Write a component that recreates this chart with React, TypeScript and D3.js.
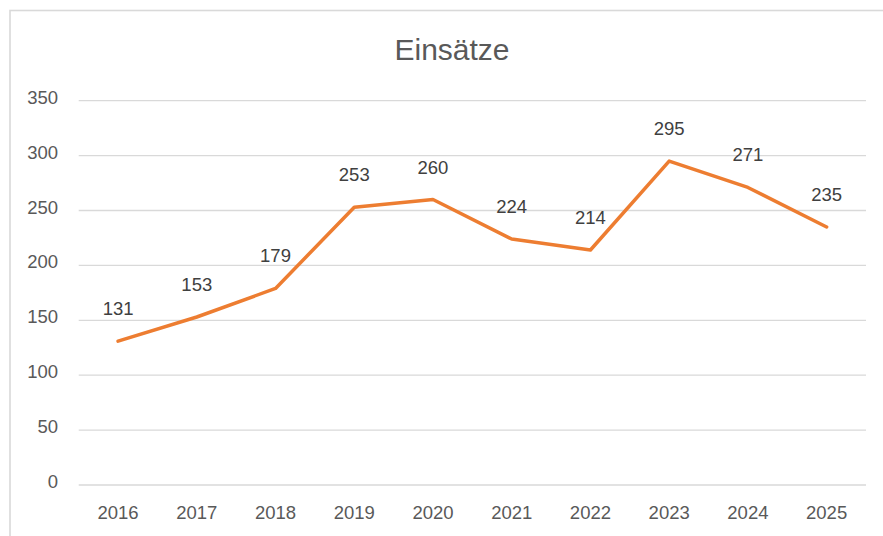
import React from "react";
import * as d3 from "d3";

const years = ["2016", "2017", "2018", "2019", "2020", "2021", "2022", "2023", "2024", "2025"];
const einsaetze = [131, 153, 179, 253, 260, 224, 214, 295, 271, 235];
const yTicks = [0, 50, 100, 150, 200, 250, 300, 350];
const title = "Einsätze";

const W = 883;
const H = 536;
const plotLeft = 78.7;
const plotRight = 866;
const plotTop = 100.7;
const plotBottom = 485;
const font = "'Liberation Sans', Arial, sans-serif";
const textColor = "#595959";

export default function App() {
  const x = d3.scaleBand<string>().domain(years).range([plotLeft, plotRight]).padding(0);
  const y = d3.scaleLinear().domain([0, 350]).range([plotBottom, plotTop]);
  const cx = (yr: string) => (x(yr) ?? 0) + x.bandwidth() / 2;
  const line = d3
    .line<number>()
    .x((_, i) => cx(years[i]))
    .y((d) => y(d));

  return (
    <svg
      width={W}
      height={H}
      style={{ position: "absolute", left: 0, top: 0, background: "#fff" }}
      fontFamily={font}
    >
      <rect x={0} y={0} width={W} height={H} fill="#fff" />
      <rect x={10} y={10.5} width={W + 20} height={H + 20} fill="#fff" stroke="#d9d9d9" strokeWidth={1.6} />
      <text x={452} y={59.5} textAnchor="middle" fontSize={30} fill={textColor}>
        {title}
      </text>
      {yTicks.map((t) => (
        <g key={t}>
          <line x1={plotLeft} x2={plotRight} y1={y(t)} y2={y(t)} stroke="#d9d9d9" strokeWidth={1.3} />
          <text x={58} y={y(t) + 3} textAnchor="end" fontSize={18.5} fill={textColor}>
            {t}
          </text>
        </g>
      ))}
      {years.map((yr) => (
        <text key={yr} x={cx(yr)} y={519} textAnchor="middle" fontSize={18.5} fill={textColor}>
          {yr}
        </text>
      ))}
      <path d={line(einsaetze) ?? ""} fill="none" stroke="#ED7D31" strokeWidth={3.5} strokeLinejoin="round" strokeLinecap="round" />
      {einsaetze.map((v, i) => (
        <text key={i} x={cx(years[i])} y={y(v) - 26} textAnchor="middle" fontSize={18.5} fill="#404040">
          {v}
        </text>
      ))}
    </svg>
  );
}
